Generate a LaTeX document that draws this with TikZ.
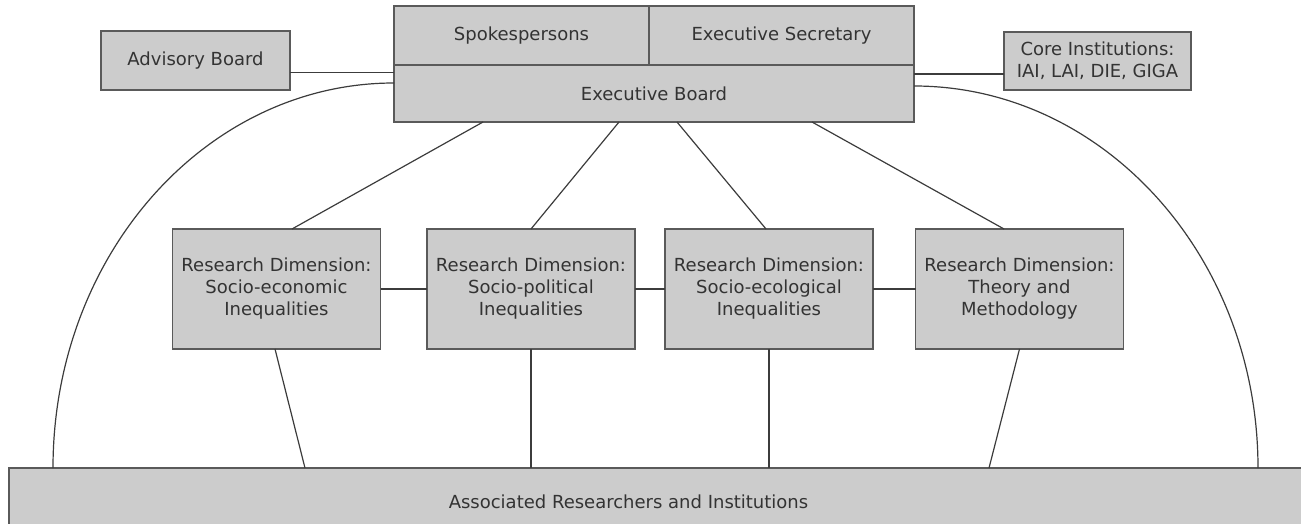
\documentclass[tikz,border=0pt]{standalone}
\usepackage{fontspec}
\setmainfont{DejaVu Sans}
\usetikzlibrary{positioning}
\definecolor{boxfill}{RGB}{204,204,204}
\definecolor{boxline}{RGB}{90,90,90}
\definecolor{txtgray}{RGB}{51,51,51}
\definecolor{linegray}{RGB}{60,60,60}

\begin{document}
\begin{tikzpicture}[thin, box/.style={rectangle,draw=boxline,fill=boxfill,line width=0.7pt,outer sep=0pt,inner xsep=1pt,inner ysep=2pt,align=center,text=txtgray,font=\fontsize{9}{11}\selectfont}, rd/.style={box,minimum width=104pt,minimum height=60pt}, conn/.style={draw=linegray,line width=0.6pt}]
	  \useasboundingbox (0,0) rectangle (650.5pt,-262pt);
	  \node[box,minimum width=127.5pt,minimum height=29.5pt] (spk) at (260.75pt,-17.75pt) {Spokespersons};
	  \node[box,minimum width=132.5pt,minimum height=29.5pt] (sec) [right = 0pt of spk] {Executive Secretary};
	  \node[box,minimum width=260pt,minimum height=28.5pt,anchor=north west] (eb) at (spk.south west) {Executive Board};
	  \node[box,minimum width=94.5pt,minimum height=29.5pt] (adv) at (97.75pt,-30.25pt) {Advisory Board};
	  \node[box,minimum width=93.5pt,minimum height=29pt] (core) at (548.75pt,-30.5pt) {Core Institutions:\\IAI, LAI, DIE, GIGA};
	  \node[rd] (rd1) at (138.25pt,-144.5pt) {Research Dimension:\\Socio-economic\\Inequalities};
	  \node[rd] (rd2) [right = 23.25pt of rd1] {Research Dimension:\\Socio-political\\Inequalities};
	  \node[rd] (rd3) [right = 15pt of rd2] {Research Dimension:\\Socio-ecological\\Inequalities};
	  \node[rd] (rd4) [right = 21.25pt of rd3] {Research Dimension:\\Theory and\\Methodology};
	  \node[box,minimum width=660pt,minimum height=40pt,anchor=north west,label={[xshift=-20.25pt,yshift=3pt,text=txtgray,font=\fontsize{9}{11}\selectfont]center:Associated Researchers and Institutions}] (assoc) at (4.5pt,-234pt) {};

	  \path[conn]
	    ([yshift=-6pt]adv.east) edge ([yshift=-6pt]adv.east -| eb.west)
	    ([yshift=-6.5pt]core.west) edge ([yshift=-6.5pt]core.west -| eb.east)

	    ([xshift=-85.5pt]eb.south) edge ([xshift=7.75pt]rd1.north)
	    ([xshift=-17.5pt]eb.south) edge (rd2.north)
	    ([xshift=11.5pt]eb.south) edge ([xshift=-1.5pt]rd3.north)
	    ([xshift=79pt]eb.south) edge ([xshift=-7.75pt]rd4.north)

	    (rd1.east) edge (rd2.west)
	    (rd2.east) edge (rd3.west)
	    (rd3.east) edge (rd4.west)

	    ([xshift=-0.75pt]rd1.south) edge ([xshift=14.25pt]rd1.south |- assoc.north)
	    (rd2.south) edge (rd2.south |- assoc.north)
	    (rd3.south) edge (rd3.south |- assoc.north)
	    (rd4.south) edge ([xshift=-15.25pt]rd4.south |- assoc.north);

	  \draw[conn] ([yshift=5.25pt]eb.west) arc[start angle=90,end angle=180,x radius=170.5pt,y radius=192.5pt];
	  \draw[conn] ([yshift=3.75pt]eb.east) arc[start angle=90,end angle=0,x radius=172pt,y radius=191pt];
\end{tikzpicture}
\end{document}
